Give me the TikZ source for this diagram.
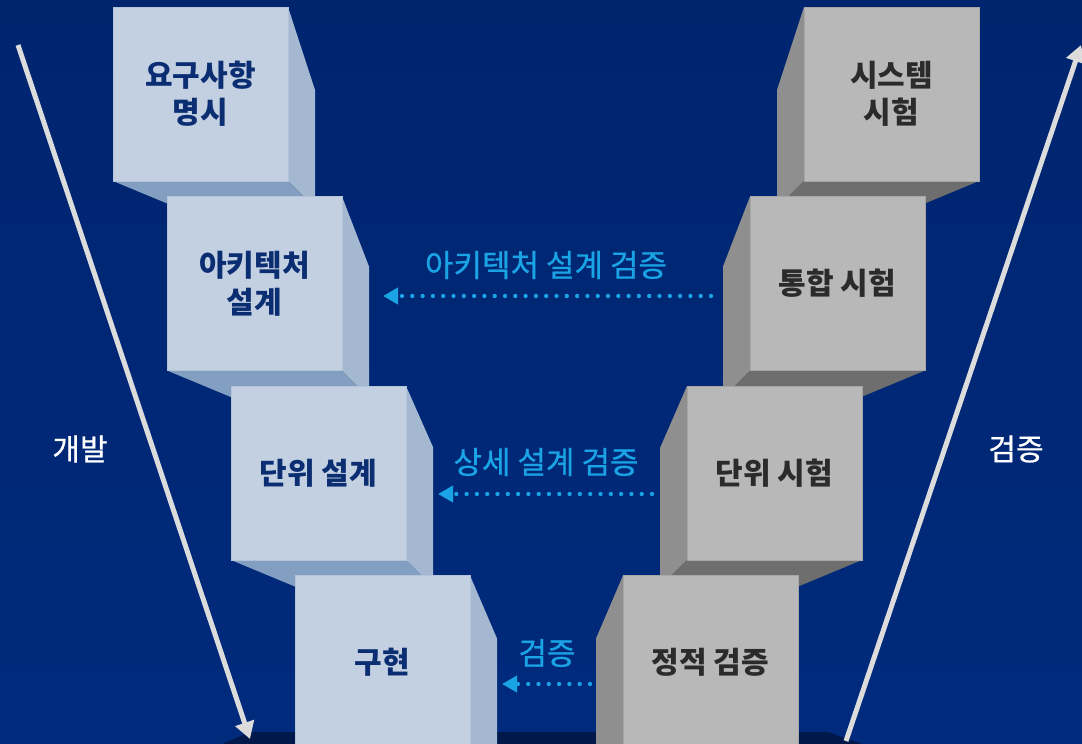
\documentclass[tikz,border=0pt]{standalone}
\usepackage{fontspec}
\newfontfamily\kr{Noto Sans CJK KR}
\newfontfamily\krm[FakeBold=0.7]{Noto Sans CJK KR}
\usetikzlibrary{arrows.meta}
\definecolor{bgtop}{HTML}{00256F}
\definecolor{bgbot}{HTML}{002A7C}
\definecolor{basec}{HTML}{00184A}
\definecolor{lfrontc}{HTML}{C3D0E1}
\definecolor{lsidec}{HTML}{A4B8D2}
\definecolor{lbotc}{HTML}{829EC0}
\definecolor{ledgec}{HTML}{B3C3D8}
\definecolor{ltextc}{HTML}{0B2D72}
\definecolor{rfrontc}{HTML}{B8B8B8}
\definecolor{rsidec}{HTML}{8F8F8F}
\definecolor{rbotc}{HTML}{6E6E6E}
\definecolor{redgec}{HTML}{A6A6A6}
\definecolor{rtextc}{HTML}{2B2B2B}
\definecolor{bluec}{HTML}{1AA4E6}
\definecolor{arrowc}{HTML}{DCDCDC}
\tikzset{
  x=1pt, y=-1pt,
  front/.style={rectangle, minimum width=175pt, minimum height=174pt, inner sep=0pt, outer sep=0pt, line width=0.6pt, align=center, font=\kr\bfseries\fontsize{30}{37}\selectfont},
  lfront/.style={front, fill=lfrontc, draw=ledgec, text=ltextc},
  rfront/.style={front, fill=rfrontc, draw=redgec, text=rtextc},
  lside/.style={fill=lsidec},
  lbot/.style={fill=lbotc},
  rside/.style={fill=rsidec},
  rbot/.style={fill=rbotc},
  bluelabel/.style={text=bluec, font=\krm\fontsize{31}{34}\selectfont, inner sep=0pt},
  whitelabel/.style={text=white, font=\krm\fontsize{30}{34}\selectfont, inner sep=0pt},
  dotarrow/.style={bluec, line width=4.3pt, line cap=round, dash pattern=on 0pt off 10.3pt, -{Triangle[length=15pt,width=16pt]}},
  bigarrow/.style={arrowc, line width=5pt, -{Triangle[length=17pt,width=19pt]}},
}
\newcommand{\leftcube}[5]{%
  \fill[lside] (#2+175,#3) -- ++(27,#4) -- (#2+202,#3+201) -- (#2+175,#3+174) -- cycle;
  \fill[lbot] (#2,#3+174) -- (#2+175,#3+174) -- (#2+202,#3+201) -- (#2+65,#3+201) -- cycle;
  \node[lfront] (#1) at (#2+87.5,#3+87) {#5};
}
\newcommand{\rightcube}[5]{%
  \fill[rside] (#2,#3) -- ++(-27,#4) -- (#2-27,#3+201) -- (#2,#3+174) -- cycle;
  \fill[rbot] (#2+175,#3+174) -- (#2,#3+174) -- (#2-27,#3+201) -- (#2+110,#3+201) -- cycle;
  \node[rfront] (#1) at (#2+87.5,#3+87) {#5};
}
\begin{document}
\begin{tikzpicture}
\useasboundingbox (0,0) rectangle (1082,744);
\begin{scope}
\clip (0,0) rectangle (1082,744);
\shade[top color=bgtop, bottom color=bgbot] (0,0) rectangle (1082,744);
\fill[basec] (222,744) -- (250,732) -- (828,732) -- (862,744) -- cycle;
% row 1
\leftcube{req}{113}{7}{83}{요구사항\\명시}
\rightcube{sys}{804}{7}{83}{시스템\\시험}
% row 2
\leftcube{arch}{167}{196.5}{70}{아키텍처\\설계}
\rightcube{integ}{750}{196.5}{70}{통합 시험}
% row 3
\leftcube{unitd}{231}{386}{61}{단위 설계}
\rightcube{unitt}{687}{386}{62}{단위 시험}
% row 4
\leftcube{impl}{295}{575.5}{63}{구현}
\rightcube{stat}{623}{575.5}{63}{정적 검증}
\end{scope}
% big arrows
\coordinate (devs) at (18,45);
\coordinate (deve) at (250,739);
\coordinate (vers) at (846,741);
\coordinate (vere) at (1081,45);
\draw[bigarrow] (devs) -- (deve);
\draw[bigarrow] (vers) -- (vere);
\node[whitelabel] (devl) at (80,449) {개발};
\node[whitelabel] (verl) at (1016,449) {검증};
% blue verification arrows
\coordinate (a1s) at (711,296);
\coordinate (a1e) at (383,296);
\coordinate (a2s) at (652,494);
\coordinate (a2e) at (438,494);
\coordinate (a3s) at (590,684);
\coordinate (a3e) at (502,684);
\draw[dotarrow] (a1s) -- (a1e);
\draw[dotarrow] (a2s) -- (a2e);
\draw[dotarrow] (a3s) -- (a3e);
\node[bluelabel] (l1) at (546,265) {아키텍처 설계 검증};
\node[bluelabel] (l2) at (546,462) {상세 설계 검증};
\node[bluelabel] (l3) at (547,653) {검증};
\end{tikzpicture}
\end{document}
